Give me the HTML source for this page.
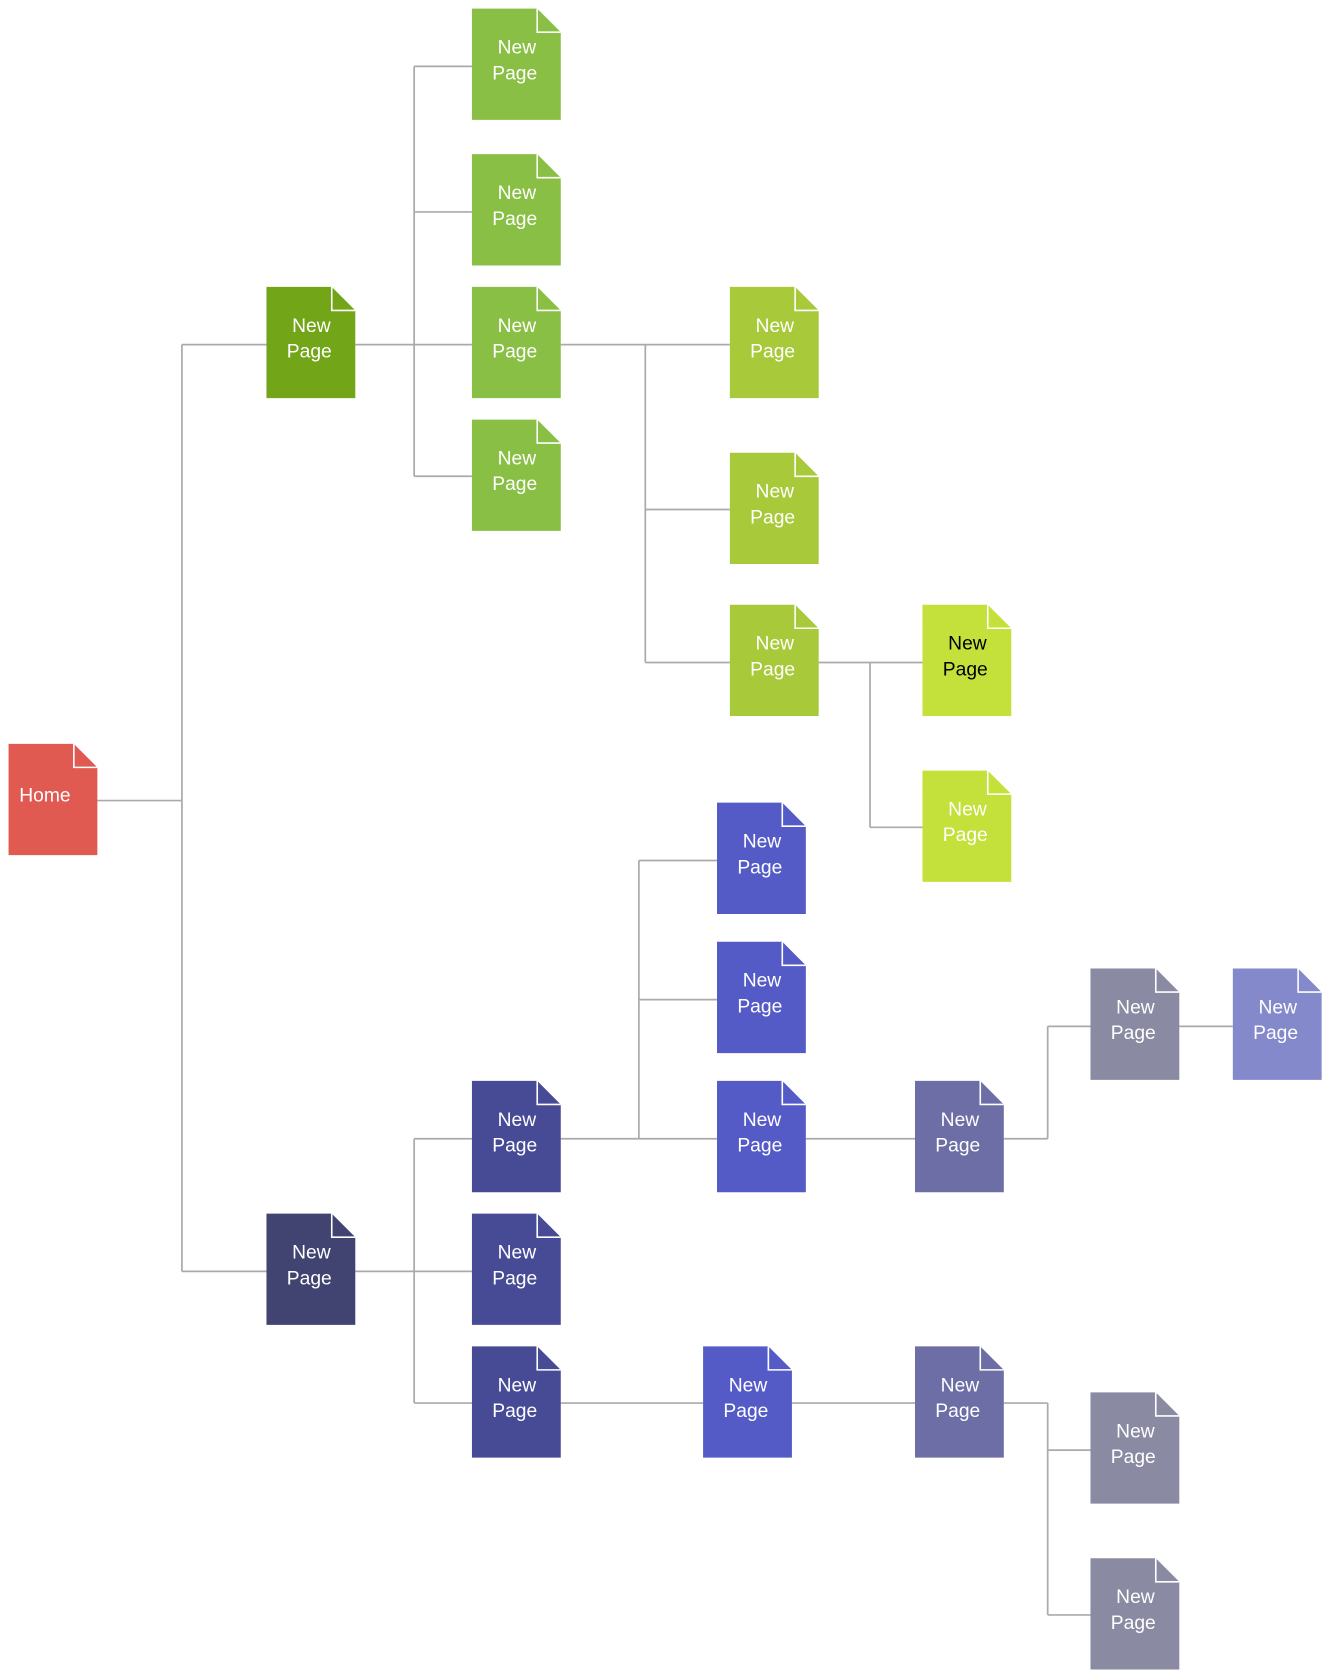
<!DOCTYPE html>
<html><head><meta charset="utf-8"><style>html,body{margin:0;padding:0;background:#fff}svg{display:block}</style></head>
<body>
<svg width="1327" height="1676" viewBox="0 0 1240 1566" xmlns="http://www.w3.org/2000/svg" font-family="'Liberation Sans', 'DejaVu Sans', sans-serif" font-size="18">
<defs>
<g id="f"><path d="M61,0V22H83" fill="none" stroke="#fff" stroke-width="1.5"/></g>
</defs>
<g fill="none" stroke="#aaa" stroke-width="1.6">
<path d="M91,748H170M170,322V1188M170,322H249M170,1188H249"/>
<path d="M332,322H387M387,62V445M387,62H441M387,198H441M387,322H441M387,445H441"/>
<path d="M524,322H603M603,322V619M603,322H682M603,476H682M603,619H682"/>
<path d="M765,619H813M813,619V773M813,619H862M813,773H862"/>
<path d="M332,1188H387M387,1064V1311M387,1064H441M387,1188H441M387,1311H441"/>
<path d="M524,1064H597M597,804V1064M597,804H670M597,934H670M597,1064H670"/>
<path d="M753,1064H855M938,1064H979M979,959V1064M979,959H1019M1102,959H1152"/>
<path d="M524,1311H657M740,1311H855M938,1311H979M979,1311V1509M979,1355H1019M979,1509H1019"/>
</g>
<g id="nodes" fill="#fff" text-anchor="middle">
<g transform="translate(8,695)"><path d="M0,0H61L83,22V104H0Z" fill="#e05a52"/><use href="#f"/><text x="10" y="54" text-anchor="start">Home</text></g>

<g transform="translate(249,268)"><path d="M0,0H61L83,22V104H0Z" fill="#72a518"/><use href="#f"/><text x="42" y="42">New</text><text x="40" y="66">Page</text></g>

<g transform="translate(441,8)"><path d="M0,0H61L83,22V104H0Z" fill="#88bf44"/><use href="#f"/><text x="42" y="42">New</text><text x="40" y="66">Page</text></g>
<g transform="translate(441,144)"><path d="M0,0H61L83,22V104H0Z" fill="#88bf44"/><use href="#f"/><text x="42" y="42">New</text><text x="40" y="66">Page</text></g>
<g transform="translate(441,268)"><path d="M0,0H61L83,22V104H0Z" fill="#88bf44"/><use href="#f"/><text x="42" y="42">New</text><text x="40" y="66">Page</text></g>
<g transform="translate(441,392)"><path d="M0,0H61L83,22V104H0Z" fill="#88bf44"/><use href="#f"/><text x="42" y="42">New</text><text x="40" y="66">Page</text></g>

<g transform="translate(682,268)"><path d="M0,0H61L83,22V104H0Z" fill="#a8c93a"/><use href="#f"/><text x="42" y="42">New</text><text x="40" y="66">Page</text></g>
<g transform="translate(682,423)"><path d="M0,0H61L83,22V104H0Z" fill="#a8c93a"/><use href="#f"/><text x="42" y="42">New</text><text x="40" y="66">Page</text></g>
<g transform="translate(682,565)"><path d="M0,0H61L83,22V104H0Z" fill="#a8c93a"/><use href="#f"/><text x="42" y="42">New</text><text x="40" y="66">Page</text></g>

<g transform="translate(862,565)"><path d="M0,0H61L83,22V104H0Z" fill="#c4e03b"/><use href="#f"/><text x="42" y="42" fill="#000">New</text><text x="40" y="66" fill="#000">Page</text></g>
<g transform="translate(862,720)"><path d="M0,0H61L83,22V104H0Z" fill="#c4e03b"/><use href="#f"/><text x="42" y="42">New</text><text x="40" y="66">Page</text></g>

<g transform="translate(249,1134)"><path d="M0,0H61L83,22V104H0Z" fill="#414470"/><use href="#f"/><text x="42" y="42">New</text><text x="40" y="66">Page</text></g>

<g transform="translate(441,1010)"><path d="M0,0H61L83,22V104H0Z" fill="#474a95"/><use href="#f"/><text x="42" y="42">New</text><text x="40" y="66">Page</text></g>
<g transform="translate(441,1134)"><path d="M0,0H61L83,22V104H0Z" fill="#474a95"/><use href="#f"/><text x="42" y="42">New</text><text x="40" y="66">Page</text></g>
<g transform="translate(441,1258)"><path d="M0,0H61L83,22V104H0Z" fill="#474a95"/><use href="#f"/><text x="42" y="42">New</text><text x="40" y="66">Page</text></g>

<g transform="translate(670,750)"><path d="M0,0H61L83,22V104H0Z" fill="#545bc6"/><use href="#f"/><text x="42" y="42">New</text><text x="40" y="66">Page</text></g>
<g transform="translate(670,880)"><path d="M0,0H61L83,22V104H0Z" fill="#545bc6"/><use href="#f"/><text x="42" y="42">New</text><text x="40" y="66">Page</text></g>
<g transform="translate(670,1010)"><path d="M0,0H61L83,22V104H0Z" fill="#545bc6"/><use href="#f"/><text x="42" y="42">New</text><text x="40" y="66">Page</text></g>
<g transform="translate(657,1258)"><path d="M0,0H61L83,22V104H0Z" fill="#545bc6"/><use href="#f"/><text x="42" y="42">New</text><text x="40" y="66">Page</text></g>

<g transform="translate(855,1010)"><path d="M0,0H61L83,22V104H0Z" fill="#6d6ea5"/><use href="#f"/><text x="42" y="42">New</text><text x="40" y="66">Page</text></g>
<g transform="translate(855,1258)"><path d="M0,0H61L83,22V104H0Z" fill="#6d6ea5"/><use href="#f"/><text x="42" y="42">New</text><text x="40" y="66">Page</text></g>

<g transform="translate(1019,905)"><path d="M0,0H61L83,22V104H0Z" fill="#8a8aa3"/><use href="#f"/><text x="42" y="42">New</text><text x="40" y="66">Page</text></g>
<g transform="translate(1019,1301)"><path d="M0,0H61L83,22V104H0Z" fill="#8a8aa3"/><use href="#f"/><text x="42" y="42">New</text><text x="40" y="66">Page</text></g>
<g transform="translate(1019,1456)"><path d="M0,0H61L83,22V104H0Z" fill="#8a8aa3"/><use href="#f"/><text x="42" y="42">New</text><text x="40" y="66">Page</text></g>

<g transform="translate(1152,905)"><path d="M0,0H61L83,22V104H0Z" fill="#8489cc"/><use href="#f"/><text x="42" y="42">New</text><text x="40" y="66">Page</text></g>
</g>
</svg>
</body></html>
